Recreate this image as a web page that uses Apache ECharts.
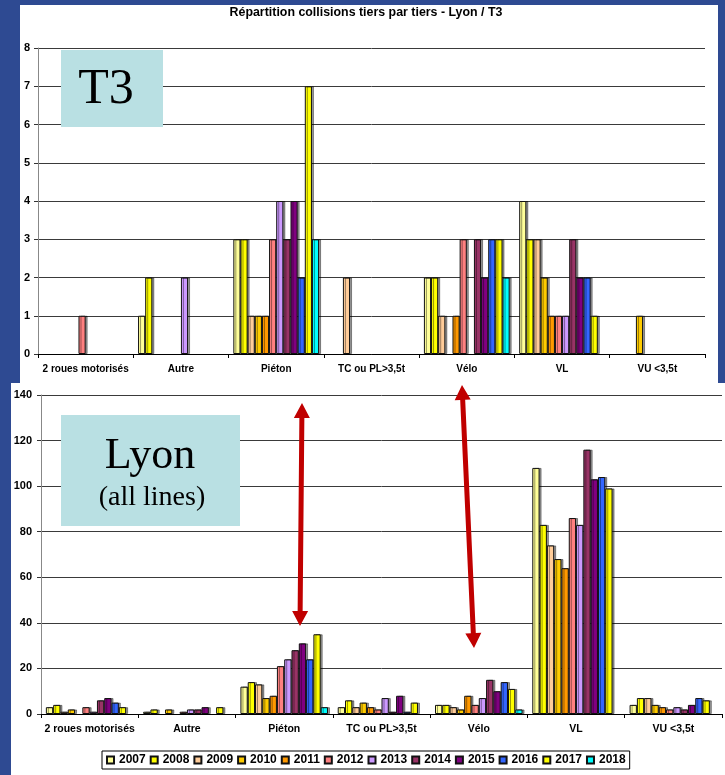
<!DOCTYPE html>
<html><head><meta charset="utf-8">
<script src="https://cdn.jsdelivr.net/npm/echarts@6/dist/echarts.min.js"></script>
<style>html,body{margin:0;padding:0;background:#2E4A92;}#c{width:725px;height:775px;}</style>
</head><body><div id="c"></div>
<script>
const categories = ['2 roues motorisés', 'Autre', 'Piéton', 'TC ou PL>3,5t', 'Vélo', 'VL', 'VU <3,5t'];
const years = ['2007','2008','2009','2010','2011','2012','2013','2014','2015','2016','2017','2018'];
const yearColors = ['#FFFF99','#FFFF00','#FFCC99','#FFCC00','#FF9900','#FF8080','#CC99FF','#993366','#800080','#3366FF','#FFFF00','#00FFFF'];

// T3 line: values per category, one per year 2007..2018
const t3_2roues  = [0,0,0,0,0,1,0,0,0,0,0,0];
const t3_autre   = [1,2,0,0,0,0,2,0,0,0,0,0];
const t3_pieton  = [3,3,1,1,1,3,4,3,4,2,7,3];
const t3_tc      = [0,0,2,0,0,0,0,0,0,0,0,0];
const t3_velo    = [2,2,1,0,1,3,0,3,2,3,3,2];
const t3_vl      = [4,3,3,2,1,1,1,3,2,2,1,0];
const t3_vu      = [0,0,0,1,0,0,0,0,0,0,0,0];

// Lyon (all lines): values per category, one per year 2007..2018
const lyon_2roues = [3,4,1,2,0,3,1,6,7,5,3,0];
const lyon_autre  = [1,2,0,2,0,1,2,2,3,0,3,0];
const lyon_pieton = [12,14,13,7,8,21,24,28,31,24,35,3];
const lyon_tc     = [3,6,3,5,3,2,7,1,8,1,5,0];
const lyon_velo   = [4,4,3,2,8,4,7,15,10,14,11,2];
const lyon_vl     = [108,83,74,68,64,86,83,116,103,104,99,0];
const lyon_vu     = [4,7,7,4,3,2,3,2,4,7,6,0];

const t3Ticks = {min:0, max:8, interval:1};
const lyonTicks = {min:0, max:140, interval:20};

const t3Rows = [t3_2roues, t3_autre, t3_pieton, t3_tc, t3_velo, t3_vl, t3_vu];
const lyonRows = [lyon_2roues, lyon_autre, lyon_pieton, lyon_tc, lyon_velo, lyon_vl, lyon_vu];

const FONT = 'Liberation Sans, Arial, sans-serif';

function makeSeries(rows, idx) {
  return years.map((y, i) => ({
    type: 'bar', name: y, xAxisIndex: idx, yAxisIndex: idx,
    data: rows.map(r => r[i] === 0 ? null : r[i]),
    barGap: '0%', barCategoryGap: '10%',
    itemStyle: {color: yearColors[i], borderColor: '#111', borderWidth: 1,
      shadowColor: 'rgba(0,0,0,0.4)', shadowOffsetX: 2, shadowOffsetY: 0, shadowBlur: 0},
    emphasis: {disabled: true},
    animation: false
  }));
}

function arrow(x1, y1, x2, y2) {
  const dx = x2 - x1, dy = y2 - y1, L = Math.hypot(dx, dy);
  const ux = dx / L, uy = dy / L, px = -uy, py = ux;
  const hl = 15, hw = 8, sw = 2.5;
  const b1 = [x1 + ux * hl, y1 + uy * hl], b2 = [x2 - ux * hl, y2 - uy * hl];
  const P = (b, s) => [b[0] + px * s, b[1] + py * s];
  return {type: 'polygon', z: 100,
    shape: {points: [[x1, y1], P(b1, hw), P(b1, sw), P(b2, sw), P(b2, hw), [x2, y2],
                     P(b2, -hw), P(b2, -sw), P(b1, -sw), P(b1, -hw)]},
    style: {fill: '#C00000'}};
}

function yAxis(idx, t, margin) {
  return {type: 'value', gridIndex: idx, min: t.min, max: t.max, interval: t.interval,
    axisLine: {show: true, lineStyle: {color: '#888', width: 1}},
    axisTick: {show: true, length: 4, lineStyle: {color: '#333'}},
    axisLabel: {fontSize: 11, fontWeight: 'bold', color: '#000', fontFamily: FONT, margin: margin},
    splitLine: {show: true, lineStyle: {color: '#3a3a3a', width: 1}}};
}
function xAxis(idx, fs) {
  return {type: 'category', gridIndex: idx, data: categories,
    axisLine: {show: true, lineStyle: {color: '#000', width: 1}},
    axisTick: {show: true, length: 4, lineStyle: {color: '#000'}},
    axisLabel: {interval: 0, fontSize: fs, fontWeight: 'bold', color: '#000', fontFamily: FONT, margin: 10}};
}

const chart = echarts.init(document.getElementById('c'), null, {renderer: 'canvas'});
chart.setOption({
  backgroundColor: '#2E4A92',
  animation: false,
  grid: [
    {left: 38, right: 20, top: 48, bottom: 775 - 354, containLabel: false},
    {left: 41, right: 3, top: 395, bottom: 775 - 714, containLabel: false}
  ],
  xAxis: [xAxis(0, 10), xAxis(1, 10.5)],
  yAxis: [yAxis(0, t3Ticks, 8), yAxis(1, lyonTicks, 9)],
  legend: {
    data: years, left: 102, top: 751, orient: 'horizontal',
    itemWidth: 7, itemHeight: 7, itemGap: 4, icon: 'rect',
    padding: [3, 4, 3, 4], borderColor: '#000', borderWidth: 1, backgroundColor: '#fff',
    selectedMode: false,
    textStyle: {fontSize: 12, fontWeight: 'bold', color: '#000', fontFamily: FONT}
  },
  series: makeSeries(t3Rows, 0).concat(makeSeries(lyonRows, 1)),
  graphic: [
    {type: 'rect', z: -10, shape: {x: 20, y: 5, width: 698, height: 378}, style: {fill: '#fff'}},
    {type: 'rect', z: -10, shape: {x: 11, y: 383, width: 714, height: 392}, style: {fill: '#fff'}},
    {type: 'text', z: 10, x: 366, y: 13,
      style: {text: 'Répartition collisions tiers par tiers - Lyon / T3', fontSize: 12.4, fontWeight: 'bold',
        fontFamily: FONT, fill: '#000', align: 'center', verticalAlign: 'middle'}},
    {type: 'rect', z: 50, shape: {x: 61, y: 50, width: 102, height: 77}, style: {fill: '#B9E0E3'}},
    {type: 'text', z: 51, x: 106, y: 90,
      style: {text: 'T3', fontSize: 50, fontFamily: 'Liberation Serif, Times New Roman, serif',
        fill: '#000', align: 'center', verticalAlign: 'middle'}},
    {type: 'rect', z: 50, shape: {x: 61, y: 415, width: 179, height: 111}, style: {fill: '#B9E0E3'}},
    {type: 'text', z: 51, x: 150, y: 456,
      style: {text: 'Lyon', fontSize: 44, fontFamily: 'Liberation Serif, Times New Roman, serif',
        fill: '#000', align: 'center', verticalAlign: 'middle'}},
    {type: 'text', z: 51, x: 152, y: 498,
      style: {text: '(all lines)', fontSize: 28, fontFamily: 'Liberation Serif, Times New Roman, serif',
        fill: '#000', align: 'center', verticalAlign: 'middle'}},
    arrow(302, 403, 300, 626),
    arrow(462, 385, 474, 648)
  ]
});
</script></body></html>
